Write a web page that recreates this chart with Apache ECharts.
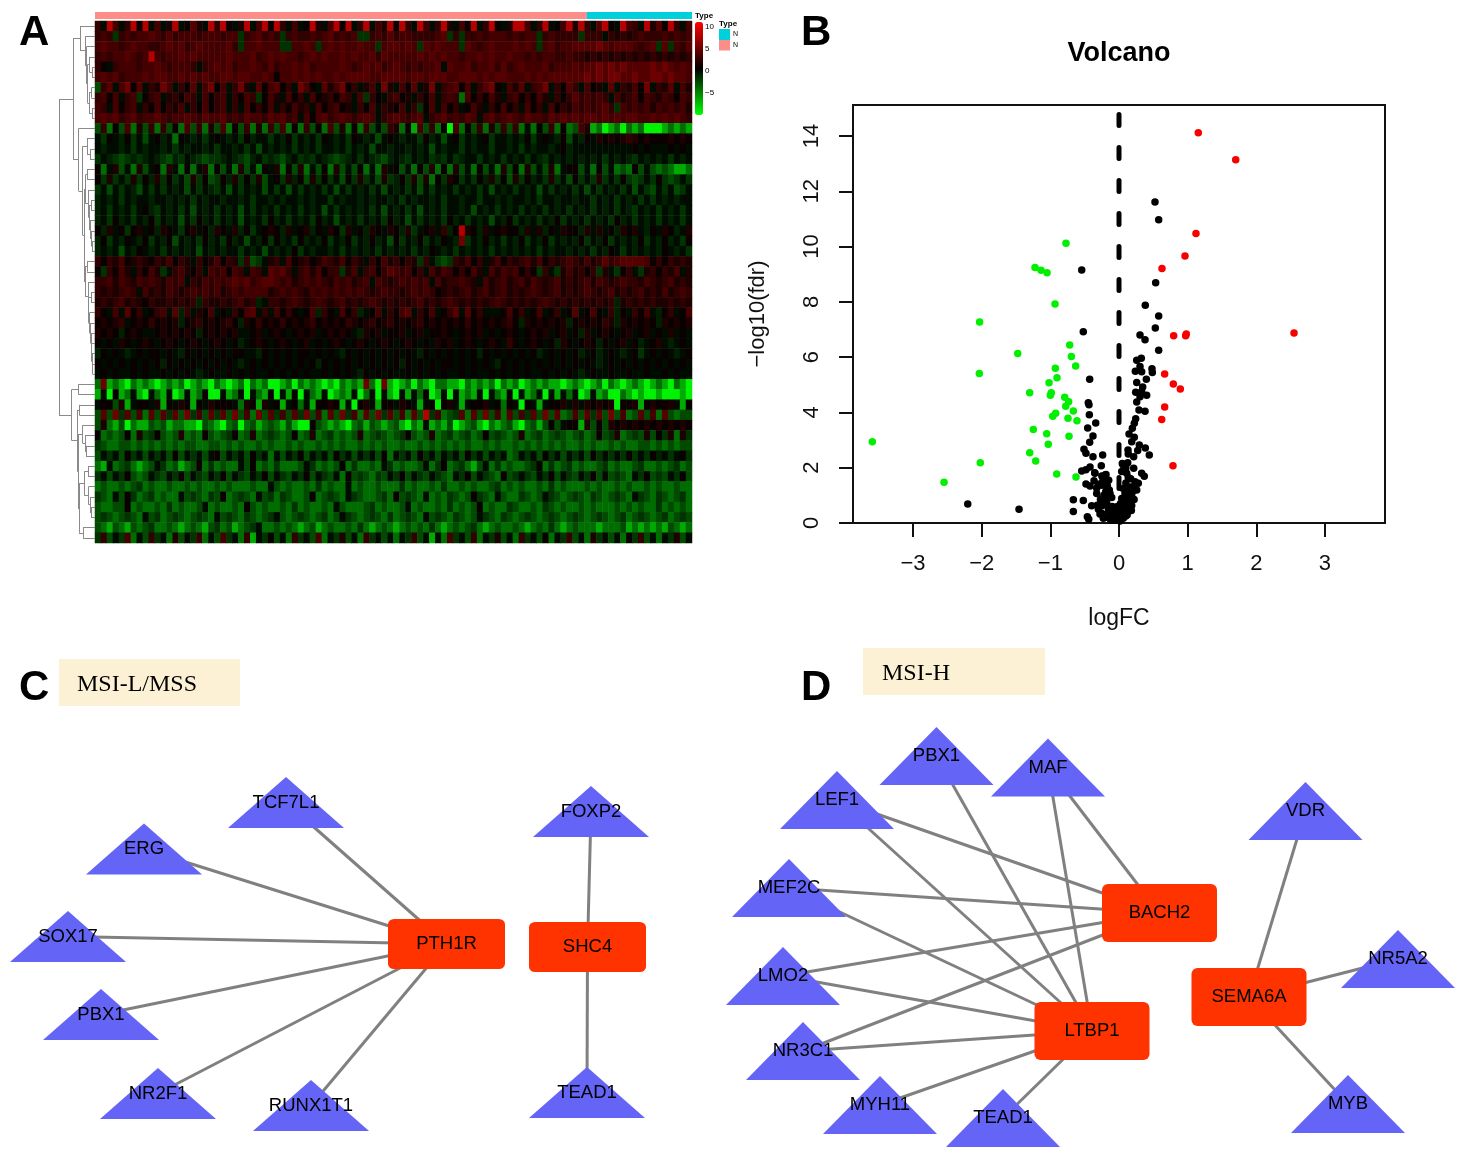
<!DOCTYPE html>
<html><head><meta charset="utf-8">
<style>html,body{margin:0;padding:0;background:#fff}#c{width:1467px;height:1159px}</style>
<script src="https://cdn.jsdelivr.net/npm/echarts@6/dist/echarts.min.js"></script>
</head><body><div id="c"></div>
<script>
// ---- Panel A: heatmap cells, one string per gene row, one character per column block
const heatLevels = {a:-9.5,b:-6.5,c:-4,d:-2.6,e:-1.6,f:-0.8,'0':0,'1':0.9,'2':1.7,'3':2.5,'4':3.3,'5':4,'6':5,'7':8,'8':10};
const heatRows = [
"3074037170 4027015207 3710270471 7304017204 7170370427 1730740372 0417037102 7740370147 2730571074 3072517304",
"343e343445 4353444344 4344e34534 3e34334345 3434ee3435 344333345e 3e33434443 4344e34333 3e33303232 3433343434",
"4544345443 3454534544 4453e44544 4ee4454e45 4544544e45 5454e54544 4e54345444 5454e45344 5555654555 4345e5e435",
"3434454347 4344545444 4454445345 4544345454 4545445354 4444545454 4344545445 4434344334 3323232323 2323232323",
"3103444344 5434443034 5453445435 3445453444 4543454534 5434344505 4453445353 4544453444 5455656565 5556565454",
"4545344454 5544545454 4554554454 1445454544 5455554455 5545545554 4555454554 4454545555 5565656655 6556656554",
"d350461503 2640315046 1403620514 5130641052 4613024062 0415026034 5140356104 2503460315 3041205032 4160325042",
"3414034e13 4023143041 3403143e14 2041304123 14304e3103 4120314034 3c41314203 4131420313 5343430423 4143243143",
"4304134031 4132403141 3403041314 0314230413 4120314032 1403e14041 3014203141 3041304132 4343453e43 4342434342",
"4545345344 5434454354 4534354435 4534041453 4543454034 5434503453 4354045345 4354435454 5455454545 5445454543",
"d3c1d4c2d3 c3d1c4d3c2 d4c1d3c2c3 d4c1c3d1c4 d2c1c3d0d3 2c1b4d3c1a 4c1d3c2d3d 3c0c1d3c1c d42bcabcac bcaaabcbcb",
"0e10f1e0d0 1f0c10f0e0 10f0e1f00e 0f1e0f0e10 f0e10f0d01 0f00e1f0d0 1e0f01e00f 0f1e010f1d 0f10212123 2121112121",
"0f00f0e0f0 0f0e0f00f0 e00f0e0d0f 0f0e0f0e00 f0e0f0d00f 00f0f0d0f0 0e0f00e00f 0e0f00f01f 0000000000 1010001010",
"e0fedefef0 fedfe0fede ef0fedf0ef edf0efe0fe def0e0fedf 0fe0f0efe0 ef00e0f0e0 f0e0fe0f0f 0f0f0e0f0f e0f0f0e0f0",
"1c02d0c2d0 1c20c1c02c 1d0c2d0c10 2c1d2c0d1c 2d0d1c0c20 1d0c1d2c1c 2d0c1d0c2d 1c2d0d2c01 1d0c1d0cdc 1d0dcdcbbc",
"1e2e0e2e1f 2e1e0d2e1d e1f2e1e2d0 1e2f1d2e1e 0d1e2e0d2e f1e2d2c1e2 1e0e1f2e1d 2e1f0e2e0d 1e0e2e0e1e de0e1ede0e",
"e0d0e0fd0e 0e0f0d0e0f e0d0e0f0d0 e0d0e0f0e0 d0e0f0e0d0 f0e0d0e0f0 e0f0e0d0f0 e0f0d0e0f0 e0d0e0f0e0 d0ed0e0de0",
"f0f0e0f00f 00f0f0e0f0 0f00f0e00f 0f00f0f00e 0f00f0f00f 0e0f00f0e0 0f00e00f0f 00f0e00f00 f00e0f0e0f 0e0e0f0f00",
"f0e0f0e01f e0f0e0d0f0 e0f0d0e0f0 e0f0e0f0d0 e0f0f0e0d0 f0e0d0f0e0 0f0d0f0e0f 0e0f0e0f0e 0f0e0f0e0f e0f0e0f0e0",
"f0e1f0e0f1 e0f0d0e1f0 e0f0d0f0e1 f0e0f0e1f0 d0f0e0f0e1 f0d0e0f0e1 f0e0f0d0f1 e0f0e0f1e0 f0e0f0e1f0 e0f0e0f0e0",
"1f201e1201 f210e1201f 2102f1e012 1f2012f102 1e201f2102 1f2e01203f 1721f20121 1f202f1021 1f20201f21 20f1021f02",
"f1e0f10f1e 0f1d0f0e1f 0e1f0d0f1e 1f0e1f0f1e 0f1e0f1f0d 1e0f1e0f10 f6e0f1f0e0 f1e0f1e0f0 f1e0f1e0f0 f1e0f1f0e1",
"f0f0d0f10f 0e0f0f0d0f 0f00e0f0d0 f0f1e0f00f 0e0f0f0e0f 0f0e0f10f0 e0f0f0e0f0 f0f0e0f00f 0f0e0f10e0 f0f0f10f0e",
"3132412321 3241320312 4132e3de02 3041231243 2413203142 3132e30ede 3241302413 2342413234 3242353455 5541313232",
"1e31420314 2e03421304 3414304305 4530342413 3e24034135 4341304243 1314204243 4131e30e24 2313e20e13 0e23132402",
"3342432434 3243403243 4345453455 4342343432 4342340432 3434340423 3432042342 3424323423 2342432343 3243234232",
"3232343042 3243234343 4234344442 3434324343 4343432343 3234343123 2342342342 3234323423 2343234232 3423242343",
"2323423213 2232323f32 2323423f03 3234323432 3423234323 2323423234 3232323432 3232343232 3232323f23 2323223232",
"3104051301 3405f30214 0103145030 4131014f31 0413f01403 1450314013 5051300014 1301401301 5014103f10 3140f13014",
"1212301213 1212f12312 1231f21312 1312123121 2132123123 1212312121 2131212123 1f2121212f 1212132f21 2121f21212",
"2121f12100 1212121f12 1212001201 2101212012 1210f21201 1201201121 0121201012 1012120120 1f20121012 0120102010",
"1010210121 0121012101 2101f01210 1210120101 2101210121 0121010212 0121012103 1012101f21 0121f10120 1f0120f010",
"f1010f0101 1010f10101 0101100f10 1010110101 0f10101010 1010f10101 0101f10101 0101f01010 1f01f010f0 1e01010f01",
"1010101010 1f10101010 1010f01010 1010101f10 1010101010 1f10101011 0101010f10 1010101010 1010f01010 1010101010",
"0101001010 0101010f01 0010101001 0101010010 1010f10101 0010101010 0101001010 1010010101 0f01001001 0010010100",
"c6bcbacbcb abcbcabcba cbabcacbca abcacbcbab acbcb6ca6b abcacbaccb bacbcbcacb cabcbcbbab cbabcacbab cbabcbacba",
"b0a1bc0ba0 cb0ab0bc1a a0bc0a0cb1 a0b1a0cb0a bcb0ac0a0b a0b0c1ab0a 0bcb0a0cb1 a0bc0a0b0c 0ab0bcaacb abaabaaaba",
"011d2b0110 2b1021b102 1110c21b20 1b01c0b112 1b0a120b11 0210b01a12 0b011201c1 0a10b01120 2021212a11 2b121120b1",
"d5d6e5d4c5 d5e5d6e4d5 e5d6d4c6d5 e4d5e6d4c5 d6e4c5d6e5 d4c5d7e4cd e5c5d6d4c5 d4e5d6d5cd 4d5e5d6d4c d5d4c5dcdd",
"d2cbdacbbd cdbccbbadc bacdacdbcd cbdbaa1dcb cbacdbdcbc dbacb0bcbd abcdbacbcd bacdbd1d01 1b2d1d2121 2121212121",
"1cdcd1c2de 1dcd2cdc1d cde1cd2cde dcd1cd2cde cdcd2cdedc de1dcd2cde cdecd1dedc d2cdecdedc decd1de2cd ed2d1e2c2e",
"edccddcdcd cdcdcddccd dcdcdccdcd ccdcdccdcd cdccdcdcdc cdccdcdcdc dcdccdcdcc dcdcdcdcdc cdcdccdcdc cddcdcdcdd",
"d0e0d1e0d0 e0d1d0e0d0 1d0e0d1e0c 0d0e1d0e0d 1e0d0e0d1c 0e0d1e0d0e 0d1e0d0e0c d0e0d1e0d0 e0d1e0e0e1 e0e1f0e01e",
"cb0cdecbcd 0ecdbcd1ce cdcc0d1cdc ecccd0ecdc d1ceccdc0e cdccd0ce1c decbd0cecd ccde1cecde cdccdecdcc deccdcdecdc".slice(0,109),
"e0d0e1dcd0 ed0e1d0ed0 e1d0ed0e1d 0ed0e1d0ed 0c1dedced0 e1d0ed0edc 0e1d0edc1d e0ed0e1d0e d0e1d0dedc 0e1ded0e1d",
"cdccdcdecd ccdccdcdcc dcdcccdcc0 dcdccdcecd cc0cdccdcc cecdccdcec cdcdccdecd cdccdcecdc ccdcdccdcd ccdcdccdcc",
"edc0d1ecde cdcc0dedce d1cdedc0de cedccd1cde dc0edccdec 1dedc0cdce dcd1edc0dc cedcd0edcd edcedcdedc 0edcedcdec",
"dccdd1cdcc dcecdccd0c dccdc1dcdc cdcecdccdc 0dcccdecdc cd0cdccdce cdcd1cdcce dccdcedcdc cdcdcccdcd cdccecdcdc",
"dedcdedc0d ecdedcdedc 0dedcedcde 0dcdedcdec d0edcdedce cdedc0dedc edcd0edced cdedcdedcd edcdedcdec dedcdecded",
"dcbdcbdcde ccdcbcdcbd ecdbcde0cc dcdcbcdbcd ccdcecbcdc bcdcdcecbc dcdecbcdcc dcbcdcecbc dcccbcccdb cbcbcbdcbc",
"e3d0e4c0d3 e0c2d0e3c0 d4e0c3b0e1 d0c3e0d4c0 e2d0c3e0d0 c0e3d0b0c4 e0d3c0e2d0 c3e0d1c0e3 d0c2e0d0c1 e3d0c0e2d0"
];
// Row dendrogram: [merge height, child, child]; a bare number is a gene row
const rowTree = [36,
  [22,
    [15,0,[10,1,[8.5,2,[7.5,[5.5,3,[3,4,5]],[6,[3.5,6,7],[3,8,9]]]]]],
    [16.5,10,[12.5,[8,11,[5,12,13]],[11,
      [9.5,[8,14,15],[6.5,16,[6,[4,17,18],[5,19,[3.5,20,[3,21,22]]]]]],
      [10,[8,23,24],[7,25,[6.5,[4,26,27],[5.5,28,[4.5,29,[4,30,[3.5,31,[3,32,[2.5,33,34]]]]]]]]]
    ]]]
  ],
  [23.3,[16.7,35,36],[17.7,[15.7,37,38],[17,[12.3,39,[10,40,[9,41,42]]],[16,[10.5,[7,43,44],[6.5,45,[5,46,[4,47,48]]]],[12,49,50]]]]]
];
const typeNames = ['MSI-L/MSS','MSI-H'];
const typeSampleShares = [82.4,17.6];
const colorbarTicks = ['10','5','0','\u22125'];

// ---- Panel B: volcano points [logFC, -log10(fdr)]
const volcanoGreen = [[-0.772,10.12],[-1.223,9.24],[-1.136,9.14],[-1.048,9.05],[-0.932,7.92],[-2.03,7.27],[-0.718,6.44],[-1.475,6.13],[-0.694,6.02],[-0.631,5.68],[-0.927,5.6],[-0.903,5.25],[-2.034,5.41],[-1.019,5.07],[-1.301,4.71],[-0.986,4.71],[-1.0,4.62],[-0.791,4.55],[-0.733,4.39],[-0.776,4.22],[-0.665,4.05],[-0.922,3.97],[-0.965,3.86],[-0.743,3.79],[-0.612,3.7],[-1.248,3.38],[-1.053,3.23],[-0.728,3.14],[-1.03,2.85],[-3.592,2.94],[-1.3,2.54],[-1.213,2.24],[-2.02,2.18],[-0.907,1.77],[-0.626,1.66],[-2.548,1.47]];
const volcanoRed = [[1.155,14.12],[1.7,13.14],[1.121,10.47],[0.961,9.66],[0.626,9.21],[2.549,6.87],[0.796,6.77],[0.971,6.77],[0.98,6.84],[0.665,5.39],[0.791,5.03],[0.893,4.85],[0.665,4.2],[0.622,3.74],[0.786,2.07]];
const volcanoBlack = [[-0.543,9.15],[-0.52,6.92],[-0.427,5.2],[-0.447,4.35],[-0.437,4.28],[-0.432,3.92],[-0.339,3.62],[-0.456,3.44],[-0.379,3.15],[-0.427,2.92],[-0.51,2.67],[-0.481,2.52],[-0.379,2.4],[-0.238,2.46],[-0.258,2.07],[-0.422,2.03],[-0.481,1.93],[-0.543,1.88],[-0.354,1.82],[-0.189,1.75],[-0.229,1.62],[-0.364,1.53],[-0.481,1.41],[-0.422,1.34],[-0.252,1.44],[-0.325,1.26],[-0.194,1.13],[-0.325,1.07],[-0.141,1.19],[-0.106,0.92],[-0.179,0.89],[-0.665,0.84],[-0.52,0.81],[-0.398,0.62],[-0.316,0.64],[-2.203,0.69],[-1.456,0.5],[-0.665,0.42],[-0.461,0.23],[-0.441,0.14],[-0.277,0.33],[-0.229,0.17],[-0.156,0.53],[-0.092,0.41],[-0.121,0.23],[-0.033,0.59],[-0.058,0.11],[-0.01,0.23],[0.004,0.47],[-0.204,1.74],[-0.229,1.56],[-0.35,1.8],[-0.252,1.37],[-0.179,1.19],[-0.131,1.07],[-0.204,0.95],[-0.252,0.35],[-0.131,0.47],[-0.083,0.29],[-0.121,0.11],[0.524,11.61],[0.578,10.97],[0.534,8.69],[0.383,7.88],[0.578,7.49],[0.529,7.05],[0.306,6.8],[0.379,6.63],[0.578,6.25],[0.325,5.96],[0.258,5.89],[0.306,5.66],[0.238,5.49],[0.33,5.47],[0.48,5.58],[0.485,5.44],[0.398,5.2],[0.258,5.08],[0.345,4.92],[0.243,4.73],[0.33,4.76],[0.403,4.62],[0.306,4.57],[0.258,4.38],[0.291,4.09],[0.379,4.04],[0.243,3.77],[0.223,3.61],[0.194,3.43],[0.146,3.22],[0.223,3.1],[0.185,2.94],[0.296,2.82],[0.383,2.71],[0.272,2.62],[0.131,2.64],[0.135,2.5],[0.214,2.4],[0.441,2.46],[0.048,2.15],[0.127,2.18],[0.214,1.98],[0.039,1.86],[0.112,1.8],[0.33,1.8],[0.368,1.69],[0.135,1.65],[0.233,1.49],[0.281,1.44],[0.208,1.31],[0.258,1.19],[0.15,1.17],[0.087,1.07],[0.185,1.01],[0.039,0.89],[0.135,0.77],[0.185,0.63],[0.063,0.59],[0.112,0.47],[0.039,0.29],[-0.033,0.23],[0.063,0.17],[-0.083,0.11],[0.015,0.07],[0.1,0.25],[0.05,0.42],[0.16,0.95],[0.02,0.7],[0.16,1.3],[0.2,1.15],[0.12,1.0],[0.07,0.85],[0.16,0.72],[0.09,0.65],[0.03,0.5],[0.14,0.58],[0.08,0.35],[0.02,0.4],[-0.02,0.35],[-0.05,0.47],[-0.07,0.2],[-0.1,0.6],[-0.15,0.4],[-0.18,0.75],[-0.14,0.95],[-0.22,1.0],[-0.27,0.85],[-0.25,0.62],[-0.3,1.4],[-0.17,1.35],[-0.15,1.55],[-0.25,1.7],[-0.3,0.5],[-0.2,0.2],[0.03,0.15],[0.12,0.3],[0.05,0.7],[0.06,1.25],[0.17,1.6],[0.1,1.45],[0.1,2.0],[0.06,2.1],[0.22,0.85],[0.18,0.45]];
const volcanoXTicks = [-3,-2,-1,0,1,2,3];
const volcanoYTicks = [0,2,4,6,8,10,12,14];
const cutoffLine = [[0,14.78],[0,0]];

// ---- Panels C and D: networks [gene, layout x, layout y]
const msiLTfs = [['TCF7L1',286,802.5],['ERG',144,849],['SOX17',68,936.5],['PBX1',101,1014.5],['NR2F1',158,1093.5],['RUNX1T1',311,1105.5],['FOXP2',591,811.5],['TEAD1',587,1092.5]];
const msiLTargets = [['PTH1R',446.5,944],['SHC4',587.5,947]];
const msiLEdges = [['TCF7L1','PTH1R'],['ERG','PTH1R'],['SOX17','PTH1R'],['PBX1','PTH1R'],['NR2F1','PTH1R'],['RUNX1T1','PTH1R'],['FOXP2','SHC4'],['TEAD1','SHC4']];
const msiHTfs = [['PBX1',936.5,756],['MAF',1048,767.5],['LEF1',837,800],['VDR',1305.5,811],['MEF2C',789,888],['LMO2',783,976],['NR3C1',803,1051],['MYH11',880,1105],['TEAD1',1003,1118],['NR5A2',1398,959],['MYB',1348,1104]];
const msiHTargets = [['BACH2',1159.5,913],['LTBP1',1092,1031],['SEMA6A',1249,997]];
const msiHEdges = [['LEF1','BACH2'],['LEF1','LTBP1'],['PBX1','LTBP1'],['MAF','BACH2'],['MAF','LTBP1'],['MEF2C','BACH2'],['MEF2C','LTBP1'],['LMO2','BACH2'],['LMO2','LTBP1'],['NR3C1','BACH2'],['NR3C1','LTBP1'],['MYH11','LTBP1'],['TEAD1','LTBP1'],['VDR','SEMA6A'],['NR5A2','SEMA6A'],['MYB','SEMA6A']];

// ---- build
const SANS = '"Liberation Sans",Arial,Helvetica,sans-serif';
const SERIF = '"Liberation Serif","Times New Roman",serif';
const cells = [];
heatRows.forEach((s,r)=>{ s.replace(/ /g,'').split('').forEach((ch,c)=>{ cells.push([c,r,heatLevels[ch]]); }); });
const columnNames = heatRows[0].replace(/ /g,'').split('').map((_,i)=>String(i));
const rowNames = heatRows.map((_,i)=>String(i));
const dendroSegments = [];
function walk(n){
  if(typeof n==='number') return {h:0,r:n+0.5};
  const a=walk(n[1]), b=walk(n[2]), h=n[0];
  dendroSegments.push({coords:[[a.h,a.r],[h,a.r]]},{coords:[[h,a.r],[h,b.r]]},{coords:[[h,b.r],[b.h,b.r]]});
  return {h:h,r:(a.r+b.r)/2};
}
walk(rowTree);
const ROUND_BOX='path://M6 0H109A6 6 0 0 1 115 6V52A6 6 0 0 1 109 58H6A6 6 0 0 1 0 52V6A6 6 0 0 1 6 0Z';
function netSeries(tfs,targets,edges,triSize,boxSize){
  const data=[];
  tfs.forEach(t=>data.push({name:t[0],value:[t[1],t[2]],symbol:'triangle',symbolSize:triSize,itemStyle:{color:'#6464f6'}}));
  targets.forEach(t=>data.push({name:t[0],value:[t[1],t[2]],symbol:ROUND_BOX,symbolSize:boxSize,itemStyle:{color:'#ff3300'}}));
  return {type:'graph',coordinateSystem:'cartesian2d',xAxisIndex:4,yAxisIndex:4,layout:'none',silent:true,
    data:data,links:edges.map(e=>({source:e[0],target:e[1]})),
    label:{show:true,position:'inside',formatter:'{b}',color:'#000',fontFamily:SANS,fontSize:18.5},
    lineStyle:{color:'#808080',width:3,opacity:1,curveness:0},emphasis:{disabled:true}};
}
function txt(text,x,y,size,opts){
  return {type:'text',silent:true,style:Object.assign({text:text,x:x,y:y,fill:'#000',fontFamily:SANS,fontSize:size,textAlign:'left',textVerticalAlign:'middle'},opts||{})};
}
const minus = v=>String(v).replace('-','\u2212');
const hiddenAxis = (o)=>Object.assign({show:false,splitLine:{show:false}},o);

const option = {
  animation:false,backgroundColor:'#fff',
  title:{text:'Volcano',left:1119,top:40,textAlign:'center',textStyle:{fontFamily:SANS,fontWeight:'bold',fontSize:27,color:'#000'},padding:0},
  grid:[
    {left:95,top:21,width:597,height:522},
    {left:59,top:21,width:36,height:522},
    {left:95,top:12,width:597,height:7},
    {left:853,top:105,width:532,height:418,show:true,borderColor:'#111',borderWidth:2,backgroundColor:'transparent'},
    {left:0,top:640,width:1467,height:519}
  ],
  xAxis:[
    hiddenAxis({type:'category',gridIndex:0,data:columnNames}),
    hiddenAxis({type:'value',gridIndex:1,min:0,max:36,inverse:true}),
    hiddenAxis({type:'value',gridIndex:2,min:0,max:100}),
    {type:'value',gridIndex:3,min:-3.874,max:3.874,name:'logFC',nameLocation:'middle',nameGap:84,nameTextStyle:{fontFamily:SANS,fontSize:23,color:'#111'},
      axisLine:{show:false,onZero:false},splitLine:{show:false},
      axisTick:{show:true,length:14,lineStyle:{color:'#111',width:2},customValues:volcanoXTicks},
      axisLabel:{show:true,fontFamily:SANS,fontSize:22,color:'#111',margin:30,customValues:volcanoXTicks,formatter:minus}},
    hiddenAxis({type:'value',gridIndex:4,min:0,max:1467})
  ],
  yAxis:[
    hiddenAxis({type:'category',gridIndex:0,inverse:true,data:rowNames}),
    hiddenAxis({type:'value',gridIndex:1,min:0,max:51,inverse:true}),
    hiddenAxis({type:'category',gridIndex:2,data:['Type']}),
    {type:'value',gridIndex:3,min:0,max:15.12,name:'\u2212log10(fdr)',nameLocation:'middle',nameGap:84,nameRotate:90,nameTextStyle:{fontFamily:SANS,fontSize:22,color:'#111'},
      axisLine:{show:false,onZero:false},splitLine:{show:false},
      axisTick:{show:true,length:14,lineStyle:{color:'#111',width:2},customValues:volcanoYTicks},
      axisLabel:{show:true,fontFamily:SANS,fontSize:22,color:'#111',rotate:90,margin:30,customValues:volcanoYTicks}},
    hiddenAxis({type:'value',gridIndex:4,min:640,max:1159,inverse:true})
  ],
  visualMap:{type:'continuous',seriesIndex:0,dimension:2,min:-10,max:11,show:true,calculable:false,hoverLink:false,
    left:695,top:22,padding:0,itemWidth:8,itemHeight:93,inRange:{color:['#00ff00','#000000','#ff0000']}},
  series:[
    {type:'heatmap',xAxisIndex:0,yAxisIndex:0,data:cells,silent:true,progressive:0,emphasis:{disabled:true}},
    {type:'lines',coordinateSystem:'cartesian2d',xAxisIndex:1,yAxisIndex:1,polyline:false,silent:true,data:dendroSegments,lineStyle:{color:'#8a8a8a',width:1,opacity:1}},
    {type:'bar',name:typeNames[0],xAxisIndex:2,yAxisIndex:2,stack:'type',barWidth:'100%',silent:true,data:[typeSampleShares[0]],itemStyle:{color:'#fc8d89'}},
    {type:'bar',name:typeNames[1],xAxisIndex:2,yAxisIndex:2,stack:'type',barWidth:'100%',silent:true,data:[typeSampleShares[1]],itemStyle:{color:'#00cfdc'}},
    {type:'scatter',xAxisIndex:3,yAxisIndex:3,data:volcanoBlack,symbolSize:7.5,silent:true,itemStyle:{color:'#000',opacity:1}},
    {type:'scatter',xAxisIndex:3,yAxisIndex:3,data:volcanoGreen,symbolSize:7.5,silent:true,itemStyle:{color:'#00f000',opacity:1}},
    {type:'scatter',xAxisIndex:3,yAxisIndex:3,data:volcanoRed,symbolSize:7.5,silent:true,itemStyle:{color:'#f80000',opacity:1}},
    {type:'line',xAxisIndex:3,yAxisIndex:3,data:cutoffLine,symbol:'none',silent:true,lineStyle:{color:'#000',width:5,type:[11,22],cap:'round'}},
    netSeries(msiLTfs,msiLTargets,msiLEdges,[116,51],[117,50]),
    netSeries(msiHTfs,msiHTargets,msiHEdges,[114,58],[115,58])
  ],
  graphic:[
    txt('A',19,33,42,{fontWeight:'bold'}),
    txt('B',801,33,42,{fontWeight:'bold'}),
    txt('C',19,688,42,{fontWeight:'bold'}),
    txt('D',801,688,42,{fontWeight:'bold'}),
    {type:'rect',silent:true,shape:{x:59,y:659,width:181,height:47},style:{fill:'#fdf1d5'}},
    {type:'rect',silent:true,shape:{x:863,y:648,width:182,height:47},style:{fill:'#fdf1d5'}},
    txt('MSI-L/MSS',77,685,24,{fontFamily:SERIF}),
    txt('MSI-H',882,674,24,{fontFamily:SERIF}),
    txt('Type',695,16,8,{fontWeight:'bold'}),
    txt('Type',719,24,8,{fontWeight:'bold'}),
    {type:'rect',silent:true,shape:{x:719,y:29,width:11,height:11},style:{fill:'#00cfdc'}},
    {type:'rect',silent:true,shape:{x:719,y:40,width:11,height:10.5},style:{fill:'#fc8d89'}},
    txt('N',733,34.5,7),
    txt('N',733,45.5,7),
    txt(colorbarTicks[0],705,26.5,8),
    txt(colorbarTicks[1],705,49,8),
    txt(colorbarTicks[2],705,71,8),
    txt(colorbarTicks[3],705,93,8)
  ]
};
const chart = echarts.init(document.getElementById('c'),null,{renderer:'canvas',width:1467,height:1159});
chart.setOption(option);
</script></body></html>
